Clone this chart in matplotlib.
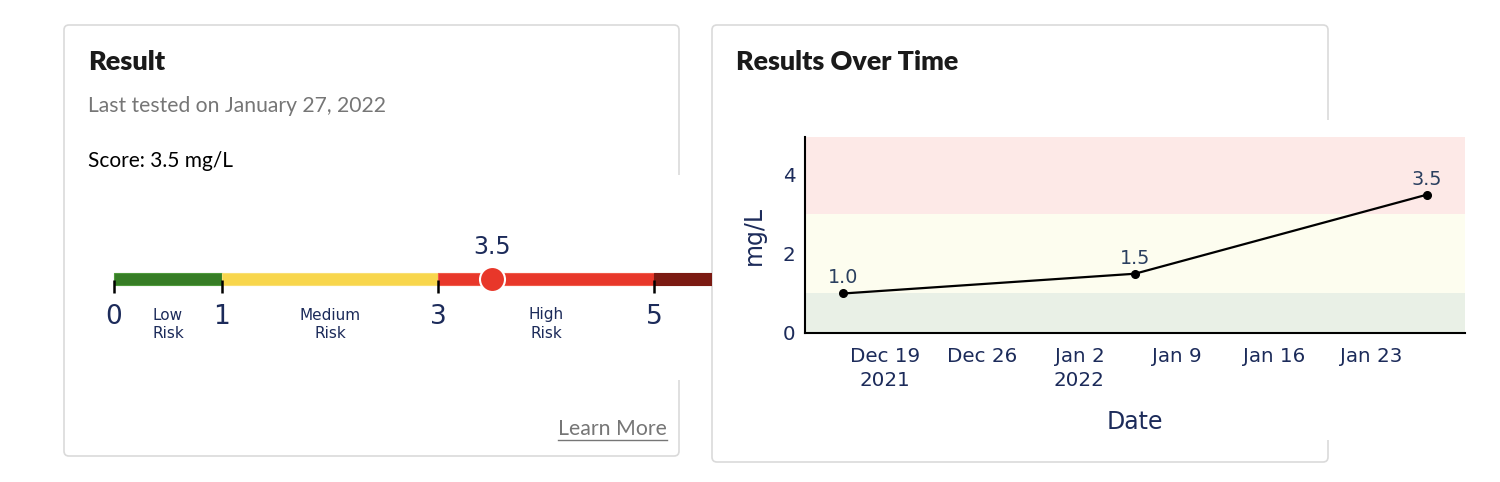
import numpy as np
import pandas as pd
import matplotlib
matplotlib.use("Agg")
from matplotlib import pyplot as plt
from matplotlib.patches import FancyBboxPatch, Rectangle

# risk scale (mg/L)
risk_edges = [0, 1, 3, 5, 6]
risk_colors = ['#367d25', '#f8d64c', '#e8372a', '#7b1a12']
risk_edge_colors = ['#4f9a3c', '#f9df72', '#f05a48', '#7b1a12']
risk_labels = ['Low\nRisk', 'Medium\nRisk', 'High\nRisk']
band_colors = ['#e9f0e6', '#fdfdef', '#fde9e7']
score = 3.5

# results over time
test_dates = ['2021-12-16', '2022-01-06', '2022-01-27']
test_values = [1.0, 1.5, 3.5]

NAVY = '#1c2b5a'
GREY = '#767676'
W, H = 1500, 482

fig = plt.figure(figsize=(W / 100, H / 100), dpi=100)
fig.patch.set_facecolor('white')

# background axes in pixel units for the cards and card text
bg = fig.add_axes([0, 0, 1, 1])
bg.set_xlim(0, W)
bg.set_ylim(H, 0)
bg.axis('off')

for x0, y0, w, h in [(64, 25, 615, 431), (712, 25, 616, 437)]:
    bg.add_patch(FancyBboxPatch((x0, y0), w, h, boxstyle='round,pad=0,rounding_size=5',
                                fc='white', ec='#dadada', lw=1.2, zorder=1))
# chart canvases sit over the card borders
bg.add_patch(Rectangle((600, 175), 110, 205, fc='white', ec='none', zorder=2))
bg.add_patch(Rectangle((1300, 120), 170, 320, fc='white', ec='none', zorder=2))

bg.text(88, 62, 'Result', fontsize=19.5, fontweight='heavy', family='Lato',
        color='#1a1a1a', va='center', ha='left', zorder=3)
bg.text(88, 106, 'Last tested on January 27, 2022', fontsize=15.2, family='Lato',
        color=GREY, va='center', ha='left', zorder=3)
bg.text(88, 161, f'Score: {score} mg/L', fontsize=15, family='Lato',
        color='black', va='center', ha='left', zorder=3)
bg.text(667, 429, 'Learn More', fontsize=15.3, family='Lato',
        color=GREY, va='center', ha='right', zorder=3)
bg.plot([558, 667], [440, 440], color=GREY, lw=1, zorder=3)
bg.text(736, 62, 'Results Over Time', fontsize=19.4, fontweight='heavy', family='Lato',
        color='#1a1a1a', va='center', ha='left', zorder=3)

# ---- risk gauge ----
px_per_unit, origin_px = 108, 114
gx0, gx1, gy0, gy1 = 64, 712, 175, 380
ga = fig.add_axes([gx0 / W, (H - gy1) / H, (gx1 - gx0) / W, (gy1 - gy0) / H])
ga.set_xlim((gx0 - origin_px) / px_per_unit, (gx1 - origin_px) / px_per_unit)
ga.set_ylim(gy1, gy0)
ga.axis('off')

bar_y = 278.5
ga.barh(bar_y, np.diff(risk_edges), left=risk_edges[:-1], height=12,
        color=risk_colors, edgecolor=risk_edge_colors, lw=0.8, zorder=2)
for e in risk_edges[:4]:
    ga.plot([e, e], [bar_y + 1.5, bar_y + 14], color='black', lw=1.8,
            solid_capstyle='butt', zorder=3, clip_on=False)
    ga.text(e, 317, str(e), fontsize=19, color=NAVY, ha='center', va='center')
for i, lab in enumerate(risk_labels):
    mid = (risk_edges[i] + risk_edges[i + 1]) / 2
    ga.text(mid, 324, lab, fontsize=11, color=NAVY, ha='center', va='center',
            linespacing=1.25)
ga.plot([score], [bar_y], 'o', ms=18, color=risk_colors[2], mec='white', mew=1.5, zorder=4)
ga.text(score, 247, f'{score}', fontsize=17, color=NAVY, ha='center', va='center')

# ---- results over time ----
lx0, lx1, ly0, ly1 = 805, 1465, 137, 333
la = fig.add_axes([lx0 / W, (H - ly1) / H, (lx1 - lx0) / W, (ly1 - ly0) / H])
la.set_zorder(5)
dates = pd.to_datetime(test_dates)
for i in range(3):
    la.axhspan(risk_edges[i], risk_edges[i + 1], color=band_colors[i], lw=0, zorder=0)
la.plot(dates, test_values, color='black', lw=1.6, marker='o', ms=5.5, zorder=3)
for d, v in zip(dates, test_values):
    la.annotate(f'{v:.1f}', (d, v), xytext=(0, 10), textcoords='offset pixels',
                ha='center', va='baseline', fontsize=13.8, color='#2a3f5f')

la.set_xlim(pd.Timestamp('2021-12-13 06:00'), pd.Timestamp('2022-01-29 18:00'))
la.set_ylim(0, 4.96)
la.set_yticks([0, 2, 4])
ticks = pd.date_range('2021-12-19', '2022-01-23', freq='7D')
labels = []
prev_year = None
for t in ticks:
    lab = f'{t:%b} {t.day}'
    if t.year != prev_year:
        lab += f'\n{t.year}'
        prev_year = t.year
    labels.append(lab)
la.set_xticks(ticks)
la.set_xticklabels(labels, linespacing=1.35)
la.tick_params(axis='both', length=0, labelsize=14.3, labelcolor=NAVY)
la.tick_params(axis='x', pad=10)
la.tick_params(axis='y', pad=7)
for s in ['top', 'right']:
    la.spines[s].set_visible(False)
for s in ['left', 'bottom']:
    la.spines[s].set_linewidth(1.5)
    la.spines[s].set_color('black')
la.set_xlabel('Date', fontsize=17, color=NAVY)
la.set_ylabel('mg/L', fontsize=17, color=NAVY)
la.xaxis.set_label_coords(0.5, (ly1 - 410) / (ly1 - ly0))
la.yaxis.set_label_coords((766 - lx0) / (lx1 - lx0), 0.5)

fig.savefig('out.png', dpi=100)
